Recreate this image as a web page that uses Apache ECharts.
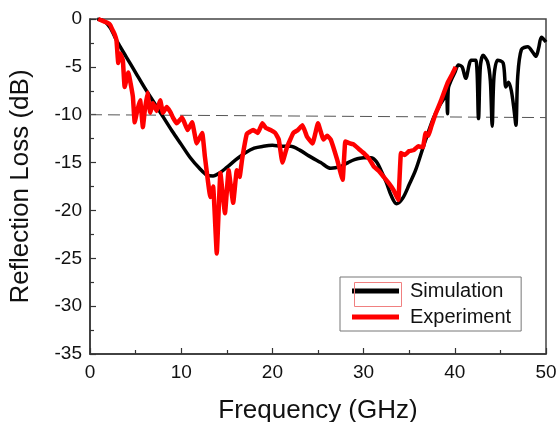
<!DOCTYPE html>
<html>
<head>
<meta charset="utf-8">
<script src="https://cdn.jsdelivr.net/npm/echarts@6/dist/echarts.min.js"></script>
<style>
html,body{margin:0;padding:0;background:#fff;}
#c{width:557px;height:422px;}
</style>
</head>
<body>
<div id="c"></div>
<script>
// Simulation (black) [frequency GHz, reflection loss dB]
const simFreq = [0.8, 1.5, 2.2, 3.0, 4.0, 5.0, 6.0, 7.0, 8.0, 9.0, 10.0, 11.0, 12.0, 12.8, 13.5, 14.2, 15.0, 16.0, 17.0, 18.0, 19.0, 20.0, 21.0, 22.0, 23.0, 24.0, 25.3, 26.4, 27.5, 28.3, 29.0, 30.0, 30.8, 31.4, 31.9, 32.5, 33.0, 33.6, 34.3, 35.0, 35.7, 36.6, 37.6, 38.3, 39.0, 39.1, 39.2, 39.3, 39.6, 40.0, 40.4, 40.8, 41.2, 41.8, 42.3, 42.6, 42.8, 43.1, 43.6, 43.9, 44.1, 44.3, 44.7, 45.3, 45.6, 45.9, 46.2, 46.5, 46.7, 46.9, 47.3, 48.0, 48.5, 48.9, 49.2, 49.5, 50.0];
const simLoss = [0.0, -0.2, -0.9, -2.4, -4.0, -5.6, -7.2, -8.7, -10.2, -11.7, -13.1, -14.5, -15.6, -16.3, -16.4, -16.1, -15.5, -14.7, -14.0, -13.5, -13.3, -13.2, -13.3, -13.3, -13.7, -14.3, -15.0, -15.6, -15.4, -15.0, -14.7, -14.5, -14.5, -14.9, -15.8, -17.1, -18.4, -19.3, -18.7, -17.3, -15.8, -13.2, -10.5, -9.1, -8.0, -7.5, -9.9, -7.2, -6.4, -5.6, -4.8, -5.0, -6.2, -4.3, -4.3, -10.4, -5.0, -3.8, -4.5, -6.5, -11.2, -6.0, -4.3, -4.6, -7.1, -6.6, -7.5, -9.5, -11.1, -6.0, -3.2, -2.9, -3.4, -3.9, -3.0, -1.9, -2.4];

// Experiment (red)
const expFreq = [0.9, 1.4, 1.9, 2.2, 2.5, 2.7, 2.9, 3.1, 3.3, 3.6, 3.8, 4.2, 4.7, 4.9, 5.2, 5.5, 5.8, 6.0, 6.3, 6.6, 6.9, 7.3, 7.7, 8.0, 8.4, 8.8, 9.1, 9.5, 10.1, 10.7, 11.2, 11.7, 12.3, 12.6, 13.2, 13.5, 13.9, 14.3, 14.8, 15.2, 15.7, 16.1, 16.4, 16.7, 17.2, 17.9, 18.4, 18.9, 19.3, 19.8, 20.3, 20.7, 21.1, 21.6, 22.3, 22.8, 23.3, 23.8, 24.4, 25.0, 25.6, 26.0, 26.4, 27.1, 27.7, 28.0, 28.5, 28.9, 29.5, 30.0, 30.6, 31.1, 31.7, 32.2, 32.8, 33.3, 33.8, 34.1, 34.5, 35.0, 35.5, 36.0, 36.5, 36.8, 37.1, 37.4, 37.9, 38.5, 39.2, 39.7, 40.1];
const expLoss = [0.0, -0.2, -0.4, -0.6, -1.2, -1.6, -2.2, -4.6, -3.6, -4.3, -7.1, -5.6, -8.1, -10.8, -9.5, -8.5, -11.3, -9.6, -7.7, -9.8, -8.8, -9.6, -8.5, -9.8, -9.2, -9.7, -10.3, -10.9, -10.3, -11.6, -10.8, -13.0, -11.9, -14.4, -18.6, -17.5, -24.5, -16.1, -20.3, -15.8, -19.2, -15.8, -16.5, -14.5, -12.0, -11.6, -11.9, -10.9, -11.4, -11.6, -11.9, -12.6, -15.0, -13.4, -11.9, -11.6, -11.1, -12.3, -13.0, -10.9, -12.6, -12.2, -12.6, -14.7, -16.8, -12.8, -13.0, -13.1, -13.6, -14.0, -14.6, -15.4, -15.9, -16.5, -17.2, -17.9, -18.9, -14.0, -14.2, -13.8, -13.7, -13.3, -13.4, -11.9, -12.2, -11.3, -9.9, -8.5, -6.7, -5.8, -5.0];

// Reference -10 dB dashed line
const refFreq = [0, 50];
const refLoss = [-10.0, -10.3];

const xTicks = [0, 10, 20, 30, 40, 50];
const yTicks = [-35, -30, -25, -20, -15, -10, -5, 0];

const zip = (a, b) => a.map((v, i) => [v, b[i]]);
const FONT = '"Liberation Sans", Arial, sans-serif';

const chart = echarts.init(document.getElementById('c'), null, {renderer: 'canvas'});
chart.setOption({
  animation: false,
  backgroundColor: '#fff',
  grid: {left: 90, right: 11, top: 19, bottom: 68, show: true, borderColor: '#444', borderWidth: 1.5,
         containLabel: false, outerBoundsMode: 'none'},
  xAxis: {
    type: 'value', min: xTicks[0], max: xTicks[xTicks.length - 1], interval: 10,
    name: 'Frequency (GHz)', nameLocation: 'middle', nameGap: 44,
    nameTextStyle: {fontFamily: FONT, fontSize: 26, color: '#111'},
    axisLine: {show: true, onZero: false, lineStyle: {color: '#333', width: 1.5}},
    axisTick: {show: true, inside: true, length: 6, lineStyle: {color: '#333', width: 1.2}},
    minorTick: {show: true, splitNumber: 2, length: 4, lineStyle: {color: '#333', width: 1.2}},
    splitLine: {show: false},
    axisLabel: {fontFamily: FONT, fontSize: 19, color: '#111', margin: 9}
  },
  yAxis: {
    type: 'value', min: yTicks[0], max: yTicks[yTicks.length - 1], interval: 5,
    name: 'Reflection Loss (dB)', nameLocation: 'middle', nameGap: 56,
    nameTextStyle: {fontFamily: FONT, fontSize: 26, color: '#111'},
    axisLine: {show: true, onZero: false, lineStyle: {color: '#333', width: 1.5}},
    axisTick: {show: true, inside: true, length: 6, lineStyle: {color: '#333', width: 1.2}},
    minorTick: {show: true, splitNumber: 2, length: 4, lineStyle: {color: '#333', width: 1.2}},
    splitLine: {show: false},
    axisLabel: {fontFamily: FONT, fontSize: 19, color: '#111', margin: 8}
  },
  legend: {
    data: [
      {name: 'Simulation', icon: 'rect', itemStyle: {color: '#000'}},
      {name: 'Experiment', icon: 'rect', itemStyle: {color: '#f00'}}
    ],
    orient: 'vertical', left: 340, top: 277,
    itemWidth: 47, itemHeight: 5, itemGap: 6,
    padding: [4, 10, 4, 12],
    borderColor: '#777', borderWidth: 1, backgroundColor: '#fff',
    textStyle: {fontFamily: FONT, fontSize: 20, color: '#111', lineHeight: 20, padding: [0, 0, 0, 6]}
  },
  graphic: [{
    type: 'rect', left: 352, top: 280, z: 100,
    shape: {width: 47, height: 24},
    style: {fill: 'none', stroke: '#f08080', lineWidth: 1}
  }],
  series: [
    {
      name: 'Simulation', type: 'line', data: zip(simFreq, simLoss),
      showSymbol: false, smooth: 0.3, z: 3,
      lineStyle: {color: '#000', width: 3.5}, itemStyle: {color: '#000'}
    },
    {
      name: 'Experiment', type: 'line', data: zip(expFreq, expLoss),
      showSymbol: false, smooth: 0.1, z: 4,
      lineStyle: {color: '#f00', width: 4.5}, itemStyle: {color: '#f00'}
    },
    {
      name: 'ref', type: 'line', data: zip(refFreq, refLoss),
      showSymbol: false, silent: true, z: 1,
      lineStyle: {color: '#555', width: 1, type: [12, 6]}
    }
  ]
});
</script>
</body>
</html>
